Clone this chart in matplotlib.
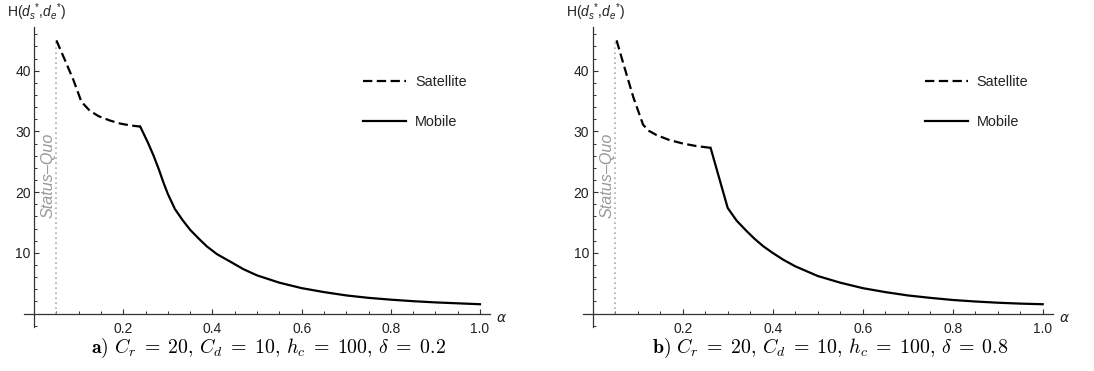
import matplotlib
matplotlib.use("Agg")
import matplotlib.pyplot as plt
from matplotlib.ticker import MultipleLocator, FixedLocator

plt.rcParams['font.family'] = ['Liberation Sans', 'DejaVu Sans']
plt.rcParams['mathtext.fontset'] = 'custom'
plt.rcParams['mathtext.rm'] = 'Liberation Sans'
plt.rcParams['mathtext.it'] = 'Liberation Sans:italic'
plt.rcParams['mathtext.bf'] = 'Liberation Sans:bold'

# ---- data ----
status_quo = 0.05

sat_alpha_a = [0.05, 0.07, 0.088, 0.106, 0.125, 0.145, 0.17, 0.193, 0.215, 0.238]
sat_H_a = [45.0, 41.6, 38.5, 34.9, 33.4, 32.5, 31.8, 31.3, 31.0, 30.8]
mob_alpha_a = [0.238, 0.255, 0.268, 0.28, 0.29, 0.30, 0.316, 0.333, 0.35, 0.37, 0.387,
               0.41, 0.439, 0.47, 0.5, 0.55, 0.6, 0.65, 0.7, 0.75, 0.8, 0.85, 0.9, 0.95, 1.0]
mob_H_a = [30.8, 28.2, 26.0, 23.7, 21.6, 19.7, 17.2, 15.4, 13.8, 12.3, 11.1,
           9.8, 8.6, 7.3, 6.3, 5.1, 4.2, 3.55, 3.0, 2.6, 2.3, 2.05, 1.85, 1.7, 1.55]

sat_alpha_b = [0.053, 0.068, 0.09, 0.112, 0.125, 0.142, 0.17, 0.201, 0.23, 0.262]
sat_H_b = [45.0, 41.2, 35.7, 31.1, 30.1, 29.4, 28.6, 28.0, 27.6, 27.3]
mob_alpha_b = [0.262, 0.30, 0.32, 0.342, 0.36, 0.379, 0.40, 0.423, 0.45, 0.5, 0.55,
               0.6, 0.65, 0.7, 0.75, 0.8, 0.85, 0.9, 0.95, 1.0]
mob_H_b = [27.3, 17.4, 15.3, 13.6, 12.3, 11.1, 10.0, 8.9, 7.8, 6.2, 5.1,
           4.2, 3.55, 3.0, 2.6, 2.25, 2.0, 1.8, 1.65, 1.55]

x_ticks = [0.2, 0.4, 0.6, 0.8, 1.0]
x_tick_labels = ["0.2", "0.4", "0.6", "0.8", "1.0"]
y_ticks = [10, 20, 30, 40]
y_tick_labels = ["10", "20", "30", "40"]

captions = [r"$\mathbf{a)}\ C_r \;=\; 20,\, C_d \;=\; 10,\, h_c \;=\; 100,\, \delta \;=\; 0.2$",
            r"$\mathbf{b)}\ C_r \;=\; 20,\, C_d \;=\; 10,\, h_c \;=\; 100,\, \delta \;=\; 0.8$"]

W, H = 1094, 371
fig = plt.figure(figsize=(W / 100, H / 100), dpi=100)

panels = [
    (24.3, 489.8, sat_alpha_a, sat_H_a, mob_alpha_a, mob_H_a, captions[0], 268),
    (582.8, 1052.6, sat_alpha_b, sat_H_b, mob_alpha_b, mob_H_b, captions[1], 830),
]
ax_top, ax_bot = 27, 327
axis_col = '#333333'

for (l, r, sa, sh, ma, mh, cap, capx) in panels:
    ax = fig.add_axes([l / W, (H - ax_bot) / H, (r - l) / W, (ax_bot - ax_top) / H])
    ax.set_xlim(-0.022, 1.022)
    ax.set_ylim(-2.2, 47.2)
    for s in ['top', 'right']:
        ax.spines[s].set_visible(False)
    ax.spines['left'].set_position(('data', 0))
    ax.spines['bottom'].set_position(('data', 0))
    for s in ['left', 'bottom']:
        ax.spines[s].set_color(axis_col)
        ax.spines[s].set_linewidth(0.9)
    ax.xaxis.set_major_locator(FixedLocator(x_ticks))
    ax.set_xticklabels(x_tick_labels)
    ax.xaxis.set_minor_locator(MultipleLocator(0.05))
    ax.yaxis.set_major_locator(FixedLocator(y_ticks))
    ax.set_yticklabels(y_tick_labels)
    ax.yaxis.set_minor_locator(MultipleLocator(2))
    ax.tick_params(axis='both', which='major', direction='in', length=3.8, width=0.8,
                   color=axis_col, labelsize=10, labelcolor='#222222')
    ax.tick_params(axis='both', which='minor', direction='in', length=2.3, width=0.7,
                   color=axis_col)
    ax.tick_params(axis='x', which='major', pad=6)
    ax.tick_params(axis='y', which='major', pad=2.5)

    ax.vlines(status_quo, 0, 44.8, colors='#aaaaaa', linestyles=(0, (1, 2)), linewidth=1.2)
    ax.text(0.031, 22.7, "Status–Quo", rotation=90, ha='center', va='center',
            fontsize=11.6, style='italic', color='#999999')

    ax.plot(sa, sh, color='black', lw=1.6, linestyle=(0, (4.2, 2.0)), label='Satellite',
            dash_capstyle='butt')
    ax.plot(ma, mh, color='black', lw=1.6, label='Mobile')

    leg = ax.legend(loc='center left', bbox_to_anchor=(0.7276, 0.75), frameon=False,
                    borderpad=0, borderaxespad=0, handlelength=3.0, handletextpad=0.6,
                    labelspacing=1.75, fontsize=10.4)
    for t in leg.get_texts():
        t.set_color('#222222')

    fig.text((l - 17) / W, (H - 12) / H, r"H($d_s{}^{*}$,$d_e{}^{*}$)", ha='left', va='center',
             fontsize=10, color='#222222')
    fig.text((r + 12) / W, (H - 318) / H, r"$\alpha$", ha='center', va='center',
             fontsize=10, color='#222222', math_fontfamily='dejavusans')
    fig.text(capx / W, (H - 348) / H, cap, ha='center', va='center', fontsize=14.3,
             math_fontfamily='cm', color='black')

fig.savefig("out.png", dpi=100)
